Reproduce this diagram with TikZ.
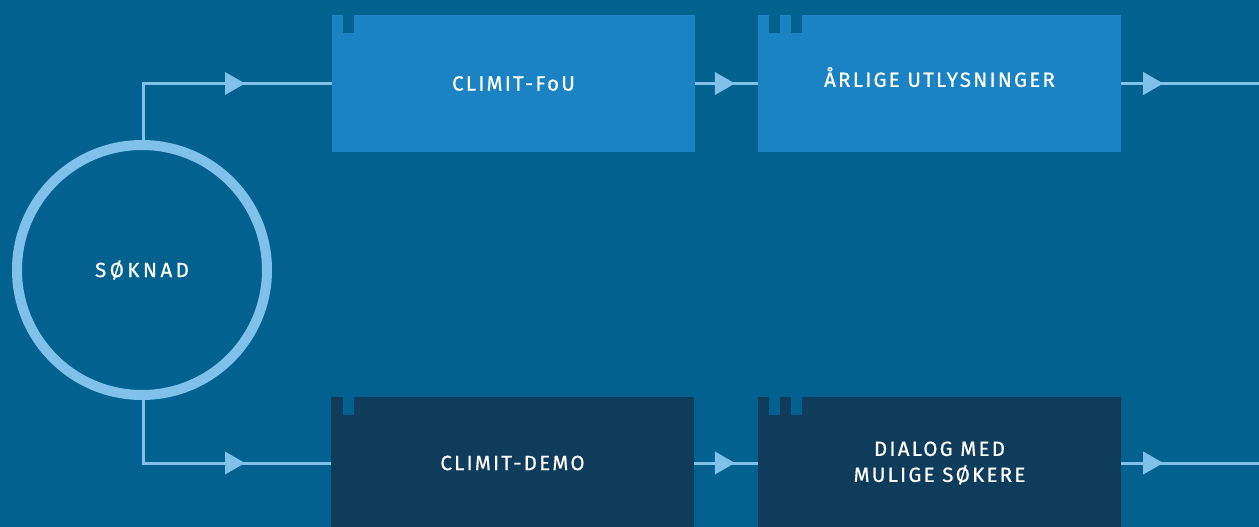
\documentclass[tikz,border=0pt]{standalone}
\usepackage{fontspec}
\setmainfont{Fira Sans}[LetterSpace=11,FakeBold=0.7]
\newfontfamily\widefont{Fira Sans}[LetterSpace=17,FakeBold=0.7]
\definecolor{bgc}{RGB}{3,97,143}
\definecolor{lightbox}{RGB}{27,131,196}
\definecolor{darkbox}{RGB}{16,60,92}
\definecolor{linec}{RGB}{128,193,235}
\tikzset{
  boxbase/.style={rectangle, inner sep=0pt, minimum width=363pt, text=white,
    font=\fontsize{20.5}{26}\selectfont, align=center},
  lightb/.style={boxbase, fill=lightbox, minimum height=137pt},
  darkb/.style={boxbase, fill=darkbox, minimum height=132pt},
  notch/.style={fill=bgc},
  conn/.style={draw=linec, line width=3pt},
  tipfill/.style={fill=linec}
}
\newcommand{\tiphere}[1]{\fill[tipfill] (#1) -- ++(-20pt,11.5pt) -- ++(0,-23pt) -- cycle;}
\begin{document}
\begin{tikzpicture}[x=1pt,y=-1pt]
\useasboundingbox (0,0) rectangle (1259,527);
\clip (0,0) rectangle (1259,527);
\fill[bgc] (0,0) rectangle (1259,527);

% boxes
\node[lightb] (fou) at (513.5,83.5) {CLIMIT-FoU};
\node[lightb] (arl) at (939.5,83.5) {\raisebox{13pt}{ÅRLIGE UTLYSNINGER}};
\node[darkb] (demo) at (512.5,463) {\raisebox{-4pt}{CLIMIT-DEMO}};
\node[darkb] (dial) at (939.5,463) {DIALOG MED\\MULIGE SØKERE};

% notches
\fill[notch] ([xshift=11pt]fou.north west) rectangle ++(11,18);
\fill[notch] ([xshift=11pt]arl.north west) rectangle ++(11,18);
\fill[notch] ([xshift=33pt]arl.north west) rectangle ++(11,18);
\fill[notch] ([xshift=12pt]demo.north west) rectangle ++(11,18);
\fill[notch] ([xshift=11pt]dial.north west) rectangle ++(11,18);
\fill[notch] ([xshift=33pt]dial.north west) rectangle ++(11,18);

% circle
\node[circle, draw=linec, line width=10pt, minimum size=250pt, inner sep=0pt,
  text=white, font=\fontsize{20.5}{24}\selectfont\widefont] (sok) at (142,270) {SØKNAD};

% connectors
\coordinate (endA) at (1259,83.5);
\coordinate (endB) at (1259,463);
\draw[conn] ([xshift=1pt]sok.north) |- (fou.west);
\draw[conn] ([xshift=1pt]sok.south) |- (demo.west);
\draw[conn] (fou.east) -- coordinate[pos=0.635] (tC) (arl.west);
\draw[conn] (demo.east) -- coordinate[pos=0.64] (tD) (dial.west);
\draw[conn] (arl.east) -- coordinate[pos=0.305] (tE) (endA);
\draw[conn] (dial.east) -- coordinate[pos=0.305] (tF) (endB);
\coordinate (tA) at (245,83.5);
\coordinate (tB) at (245,463);
\tiphere{tA}
\tiphere{tB}
\tiphere{tC}
\tiphere{tD}
\tiphere{tE}
\tiphere{tF}
\end{tikzpicture}
\end{document}
